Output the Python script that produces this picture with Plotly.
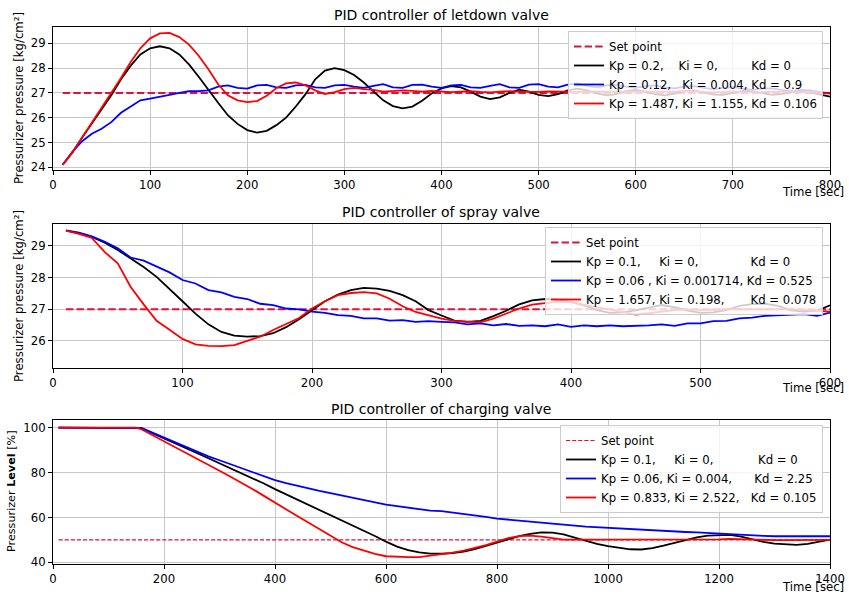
import plotly.graph_objects as go

# ---------------- data ----------------
# Letdown valve (pressure, kg/cm2)
t_letdown = list(range(10, 801, 10))
letdown_sp = 27.0
letdown_p = [24.10, 24.60, 25.20, 25.75, 26.30, 26.90, 27.55, 28.10, 28.55, 28.80,
             28.88, 28.80, 28.55, 28.15, 27.65, 27.10, 26.60, 26.10, 25.75, 25.50,
             25.40, 25.47, 25.70, 26.00, 26.45, 26.95, 27.55, 27.90, 28.00, 27.92,
             27.72, 27.42, 27.05, 26.70, 26.47, 26.38, 26.45, 26.68, 26.98, 27.18,
             27.27, 27.22, 27.05, 26.85, 26.75, 26.82, 27.00, 27.13, 27.05, 26.92,
             26.87, 26.95, 27.10, 27.17, 27.10, 26.98, 26.90, 26.95, 27.07, 27.12,
             27.05, 26.95, 26.90, 26.97, 27.08, 27.10, 27.02, 26.93, 26.92, 27.00,
             27.08, 27.07, 26.98, 26.92, 26.95, 27.03, 27.07, 27.02, 26.93, 26.85]
letdown_pid = [24.10, 24.62, 25.05, 25.35, 25.55, 25.82, 26.20, 26.45, 26.70, 26.77,
               26.83, 26.92, 27.00, 27.07, 27.07, 27.10, 27.25, 27.30, 27.20, 27.17,
               27.30, 27.32, 27.22, 27.20, 27.30, 27.32, 27.22, 27.20, 27.30, 27.32,
               27.25, 27.20, 27.28, 27.35, 27.22, 27.20, 27.32, 27.33, 27.25, 27.20,
               27.30, 27.32, 27.22, 27.20, 27.28, 27.35, 27.22, 27.20, 27.33, 27.35,
               27.25, 27.22, 27.33, 27.38, 27.28, 27.22, 27.30, 27.33, 27.25, 27.20,
               27.27, 27.30, 27.22, 27.18, 27.25, 27.27, 27.20, 27.15, 27.20, 27.23,
               27.17, 27.12, 27.17, 27.18, 27.12, 27.08, 27.12, 27.10, 27.03, 26.98]
letdown_opt = [24.10, 24.60, 25.20, 25.80, 26.35, 26.95, 27.60, 28.25, 28.80, 29.20,
               29.40, 29.42, 29.25, 28.95, 28.50, 27.95, 27.35, 26.90, 26.70, 26.63,
               26.67, 26.88, 27.20, 27.38, 27.42, 27.30, 27.10, 26.95, 27.03, 27.15,
               27.20, 27.15, 27.12, 27.05, 27.07, 27.10, 27.08, 27.05, 27.08, 27.05,
               27.03, 27.05, 27.07, 27.04, 27.02, 27.05, 27.07, 27.05, 27.03, 27.04,
               27.06, 27.05, 27.03, 27.04, 27.06, 27.05, 27.03, 27.04, 27.05, 27.05,
               27.03, 27.02, 27.04, 27.05, 27.08, 27.06, 27.03, 27.02, 27.04, 27.06,
               27.04, 27.02, 27.03, 27.05, 27.04, 27.02, 27.03, 27.04, 27.01, 26.97]
letdown_labels = ["Set point",
                  "Kp = 0.2,    Ki = 0,         Kd = 0",
                  "Kp = 0.12,   Ki = 0.004, Kd = 0.9",
                  "Kp = 1.487, Ki = 1.155, Kd = 0.106"]

# Spray valve (pressure, kg/cm2)
t_spray = list(range(10, 601, 10))
spray_sp = 27.0
spray_p = [29.48, 29.40, 29.28, 29.10, 28.87, 28.60, 28.33, 28.02, 27.65, 27.25,
           26.86, 26.52, 26.28, 26.16, 26.13, 26.15, 26.24, 26.43, 26.68, 26.97,
           27.25, 27.46, 27.60, 27.67, 27.65, 27.58, 27.44, 27.25, 26.97, 26.80,
           26.64, 26.60, 26.63, 26.78, 26.95, 27.15, 27.28, 27.32, 27.30, 27.23,
           27.12, 26.97, 26.88, 26.90, 26.96, 27.05, 27.13, 27.06, 26.95, 26.88,
           26.90, 26.97, 27.10, 27.16, 27.17, 27.10, 26.96, 26.92, 26.95, 27.12]
spray_pid = [29.49, 29.42, 29.30, 29.13, 28.92, 28.63, 28.53, 28.34, 28.16, 27.92,
             27.81, 27.60, 27.53, 27.39, 27.32, 27.17, 27.13, 27.02, 26.99, 26.92,
             26.88, 26.81, 26.79, 26.71, 26.71, 26.64, 26.65, 26.60, 26.62, 26.60,
             26.58, 26.52, 26.55, 26.49, 26.53, 26.47, 26.49, 26.46, 26.52, 26.44,
             26.49, 26.46, 26.49, 26.46, 26.47, 26.49, 26.52, 26.47, 26.55, 26.55,
             26.62, 26.63, 26.71, 26.73, 26.79, 26.81, 26.83, 26.84, 26.79, 26.89]
spray_opt = [29.48, 29.38, 29.25, 28.80, 28.45, 27.70, 27.15, 26.63, 26.35, 26.06,
             25.89, 25.84, 25.83, 25.86, 26.00, 26.13, 26.34, 26.52, 26.72, 27.02,
             27.25, 27.44, 27.51, 27.54, 27.50, 27.33, 27.09, 26.91, 26.80, 26.70,
             26.63, 26.60, 26.58, 26.70, 26.86, 27.02, 27.14, 27.20, 27.24, 27.22,
             27.14, 27.05, 26.97, 26.90, 26.83, 26.87, 26.93, 26.97, 26.99, 26.97,
             26.98, 27.00, 27.00, 26.99, 26.98, 26.99, 27.00, 26.98, 26.96, 26.92]
spray_labels = ["Set point",
                "Kp = 0.1,     Ki = 0,              Kd = 0",
                "Kp = 0.06 , Ki = 0.001714, Kd = 0.525",
                "Kp = 1.657, Ki = 0.198,       Kd = 0.078"]

# Charging valve (level, %)
t_charging = [10, 150] + list(range(160, 1401, 20))
charging_sp = 50.0
charging_p = [100.0, 100.0, 99.8, 97.5, 95.2, 93.0, 90.8, 88.6, 86.4, 84.2,
              82.0, 79.8, 77.5, 75.1, 72.6, 70.3, 67.9, 65.6, 63.2, 60.9,
              58.6, 56.3, 54.0, 51.7, 49.2, 47.0, 45.4, 44.4, 43.9, 43.8,
              44.1, 44.8, 45.9, 47.4, 49.0, 50.5, 51.7, 52.7, 53.3, 53.2,
              52.4, 51.0, 49.5, 48.2, 47.2, 46.4, 45.8, 45.7, 46.3, 47.4,
              48.7, 50.0, 51.1, 51.9, 52.2, 52.2, 51.4, 50.2, 49.1, 48.3,
              47.9, 47.8, 48.2, 49.0, 50.1]
charging_pid = [100.0, 100.0, 99.8, 97.7, 95.6, 93.5, 91.4, 89.4, 87.2, 85.5,
                83.7, 82.0, 80.2, 78.4, 76.6, 75.3, 74.1, 72.8, 71.8, 70.8,
                69.8, 68.6, 67.8, 66.8, 65.7, 65.0, 64.3, 63.6, 63.0, 62.8,
                62.2, 61.7, 61.0, 60.2, 59.5, 59.0, 58.5, 58.0, 57.5, 57.1,
                56.7, 56.3, 55.9, 55.6, 55.3, 55.0, 54.7, 54.5, 54.2, 53.9,
                53.7, 53.5, 53.3, 53.0, 52.8, 52.6, 52.3, 52.1, 51.8, 51.6,
                51.6, 51.6, 51.6, 51.6, 51.6]
charging_opt = [100.0, 100.0, 99.2, 96.6, 94.1, 91.5, 88.9, 86.2, 83.5, 80.8,
                78.1, 75.4, 72.6, 69.6, 66.5, 63.5, 60.6, 57.7, 54.7, 51.6,
                48.9, 46.8, 45.3, 43.8, 42.7, 42.4, 42.3, 42.3, 42.9, 43.4,
                44.3, 45.2, 46.3, 47.7, 49.2, 50.8, 51.7, 51.9, 51.4, 50.6,
                50.1, 50.1, 50.1, 50.1, 50.1, 50.1, 50.0, 50.0, 50.1, 50.1,
                50.1, 50.2, 50.2, 50.2, 50.2, 50.4, 50.2, 50.0, 50.0, 49.9,
                49.9, 50.0, 50.0, 50.0, 50.0]
charging_labels = ["Set point",
                   "Kp = 0.1,     Ki = 0,            Kd = 0",
                   "Kp = 0.06, Ki = 0.004,      Kd = 2.25",
                   "Kp = 0.833, Ki = 2.522,   Kd = 0.105"]

titles = ["PID controller of letdown valve",
          "PID controller of spray valve",
          "PID controller of charging valve"]
ylabels = ["Pressurizer pressure [kg/cm²]",
           "Pressurizer pressure [kg/cm²]",
           "Pressurizer <b>Level</b> [%]"]
xlabel = "Time [sec]"

# ---------------- figure ----------------
W, H = 849, 594
FONT = "DejaVu Sans"
FS = 11.7
SP_COLOR = "#DC143C"
colors = ["black", "blue", "red"]

def nb(s):
    return s.replace(" ", "\u00a0")

def py(px):
    return 1 - px / H

x_dom = [53 / W, 830 / W]
y_doms = [[py(170), py(26.7)], [py(367.7), py(224.3)], [py(564.3), py(420.3)]]
x_ranges = [[0, 800], [0, 600], [0, 1400]]
x_dticks = [100, 100, 200]
y_ranges = [[23.89, 29.67], [25.15, 29.68], [39.1, 103.3]]
y_dticks = [1, 1, 20]
legend_tops = [31, 227, 425]
legend_rights = [823, 823, 823]
title_y = [15, 211.5, 409]
xlabel_y = [192, 388, 587]
ylabel_pos = [(19, 98, FS), (19, 296, FS), (11, 491, 11.2)]

panels = [
    (t_letdown, letdown_sp, [letdown_p, letdown_pid, letdown_opt], letdown_labels, 2.0, "7.4px,3.2px"),
    (t_spray, spray_sp, [spray_p, spray_pid, spray_opt], spray_labels, 2.0, "7.4px,3.2px"),
    (t_charging, charging_sp, [charging_p, charging_pid, charging_opt], charging_labels, 1.1, "4.2px,1.9px"),
]

fig = go.Figure()
layout = dict(template="none", width=W, height=H, autosize=False,
              margin=dict(l=0, r=0, t=0, b=0, pad=0),
              paper_bgcolor="white", plot_bgcolor="white",
              font=dict(family=FONT, size=FS, color="black"),
              showlegend=True, annotations=[])

for i, (t, sp, series, labels, sp_w, sp_dash) in enumerate(panels):
    n = "" if i == 0 else str(i + 1)
    xa, ya = "x" + n, "y" + n
    leg = "legend" + n
    fig.add_trace(go.Scatter(x=[t[0], t[-1]], y=[sp, sp], mode="lines",
                             line=dict(color=SP_COLOR, width=sp_w, dash=sp_dash),
                             name=nb(labels[0]), xaxis=xa, yaxis=ya, legend=leg))
    for s, c, lab in zip(series, colors, labels[1:]):
        fig.add_trace(go.Scatter(x=t, y=s, mode="lines",
                                 line=dict(color=c, width=1.8),
                                 name=nb(lab), xaxis=xa, yaxis=ya, legend=leg))
    axis_common = dict(showline=True, linecolor="black", linewidth=1, mirror=True,
                       ticks="outside", ticklen=4, tickwidth=1, tickcolor="black",
                       showgrid=True, gridcolor="#c8c8c8", gridwidth=1,
                       zeroline=False, automargin=False,
                       tickfont=dict(family=FONT, size=FS, color="black"))
    layout["xaxis" + n] = dict(axis_common, domain=x_dom, anchor=ya,
                               range=x_ranges[i], dtick=x_dticks[i], tick0=0)
    layout["yaxis" + n] = dict(axis_common, domain=y_doms[i], anchor=xa,
                               range=y_ranges[i], dtick=y_dticks[i], tick0=0)
    layout[leg] = dict(x=legend_rights[i] / W, y=py(legend_tops[i]),
                       xanchor="right", yanchor="top",
                       bgcolor="rgba(255,255,255,0.8)", bordercolor="#cccccc",
                       borderwidth=1, itemwidth=30,
                       font=dict(family=FONT, size=FS, color="black"))
    layout["annotations"].append(dict(text=titles[i], xref="paper", yref="paper",
                                      x=(x_dom[0] + x_dom[1]) / 2, y=py(title_y[i]),
                                      xanchor="center", yanchor="middle", showarrow=False,
                                      font=dict(family=FONT, size=14, color="black")))
    layout["annotations"].append(dict(text=xlabel, xref="paper", yref="paper",
                                      x=846 / W, y=py(xlabel_y[i]),
                                      xanchor="right", yanchor="middle", showarrow=False,
                                      font=dict(family=FONT, size=FS, color="black")))
    lx, ly, lfs = ylabel_pos[i]
    layout["annotations"].append(dict(text=ylabels[i], xref="paper", yref="paper",
                                      x=lx / W, y=py(ly), textangle=-90,
                                      xanchor="center", yanchor="middle", showarrow=False,
                                      font=dict(family=FONT, size=lfs, color="black")))

fig.update_layout(**layout)
fig.write_html("out.html", config={"displayModeBar": False})
